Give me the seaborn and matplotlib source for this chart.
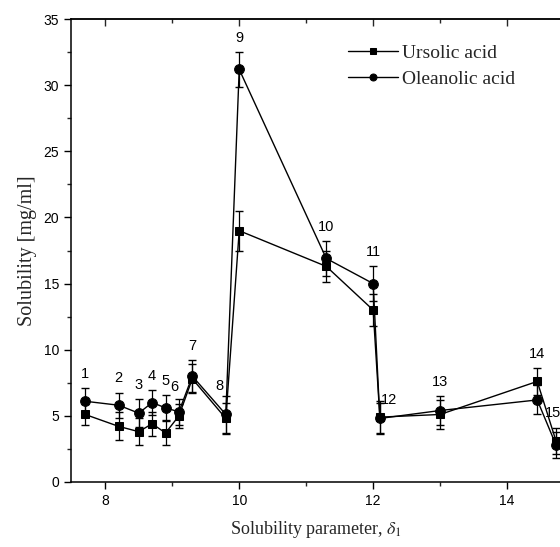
import matplotlib
matplotlib.use("Agg")
import matplotlib.pyplot as plt
import seaborn as sns
import pandas as pd
import numpy as np
from matplotlib.ticker import MultipleLocator

# Data
delta = [7.7, 8.2, 8.5, 8.7, 8.9, 9.1, 9.3, 9.8, 10.0, 11.3, 12.0, 12.1, 13.0, 14.45, 14.73]
ursolic = [5.1, 4.2, 3.8, 4.4, 3.7, 5.0, 7.8, 4.8, 19.0, 16.3, 13.0, 4.9, 5.1, 7.6, 3.1]
oleanolic = [6.1, 5.8, 5.2, 6.0, 5.6, 5.3, 8.0, 5.1, 31.2, 16.9, 15.0, 4.8, 5.4, 6.2, 2.8]
ursolic_err = [0.8, 1.05, 1.0, 0.9, 0.9, 0.9, 1.1, 1.2, 1.5, 1.2, 1.2, 1.2, 1.1, 1.0, 1.0]
oleanolic_err = [1.0, 0.95, 1.05, 0.95, 0.95, 1.0, 1.2, 1.4, 1.3, 1.3, 1.3, 1.2, 1.1, 1.1, 1.0]
point_labels = [str(i) for i in range(1, 16)]

df = pd.DataFrame({
    "delta": delta * 2,
    "sol": ursolic + oleanolic,
    "acid": ["Ursolic acid"] * len(delta) + ["Oleanolic acid"] * len(delta),
})

sns.set_style("ticks")
plt.rcParams["font.family"] = ["Liberation Sans", "DejaVu Sans"]
plt.rcParams["mathtext.fontset"] = "stix"

fig = plt.figure(figsize=(5.6, 5.47), dpi=100)
ax = fig.add_axes([0.127, 0.119, 0.873, 0.846])

sns.lineplot(data=df, x="delta", y="sol", hue="acid", style="acid",
             palette={"Ursolic acid": "black", "Oleanolic acid": "black"},
             markers={"Ursolic acid": "s", "Oleanolic acid": "o"},
             dashes=False, sort=False, estimator=None, ax=ax,
             linewidth=1.0, markersize=7, markeredgecolor="black", legend=True)
for ln in ax.lines:
    if ln.get_marker() == "s":
        ln.set_markersize(6)

ax.errorbar(delta, ursolic, yerr=ursolic_err, fmt="none", ecolor="black",
            elinewidth=0.9, capsize=3.2, capthick=1.0)
ax.errorbar(delta, oleanolic, yerr=oleanolic_err, fmt="none", ecolor="black",
            elinewidth=0.9, capsize=3.2, capthick=1.0)

# point numbers
dx = {6: -0.07, 8: -0.1, 12: 0.13, 15: -0.04}
dy = {12: -1.0, 6: -0.2, 8: -0.3}
for i, lab in enumerate(point_labels):
    n = i + 1
    top = max(ursolic[i] + ursolic_err[i], oleanolic[i] + oleanolic_err[i])
    ax.text(delta[i] + dx.get(n, 0), top + 0.55 + dy.get(n, 0), lab,
            ha="center", va="bottom", fontsize=10.5, color="black", clip_on=False)

ax.set_xlim(7.49, 14.79)
ax.set_ylim(0, 35)
ax.xaxis.set_major_locator(MultipleLocator(2))
ax.xaxis.set_minor_locator(MultipleLocator(1))
ax.yaxis.set_major_locator(MultipleLocator(5))
ax.yaxis.set_minor_locator(MultipleLocator(2.5))
ax.tick_params(axis="both", which="major", direction="out", length=5, width=1,
               labelsize=10, colors="black")
ax.tick_params(axis="both", which="minor", direction="out", length=3, width=1)

# top spine with inward ticks
top_ax = ax.secondary_xaxis("top")
top_ax.xaxis.set_major_locator(MultipleLocator(2))
top_ax.xaxis.set_minor_locator(MultipleLocator(1))
top_ax.tick_params(which="major", direction="in", length=5, width=1, labeltop=False)
top_ax.tick_params(which="minor", direction="in", length=3, width=1)
top_ax.spines["top"].set_linewidth(1.1)

for s in ["left", "bottom", "top"]:
    ax.spines[s].set_visible(True)
    ax.spines[s].set_color("black")
    ax.spines[s].set_linewidth(1.1)
ax.spines["right"].set_visible(False)

ax.set_xlabel(r"Solubility parameter, $\delta_1$", family="Liberation Serif",
              fontsize=13, labelpad=8)
ax.set_ylabel("Solubility [mg/ml]", family="Liberation Serif", fontsize=14.5, labelpad=5)

leg = ax.legend(loc="upper left", bbox_to_anchor=(0.566, 0.945), frameon=False,
                prop={"family": "Liberation Serif", "size": 14}, handlelength=2.6,
                handletextpad=0.2, labelspacing=0.4, borderpad=0, borderaxespad=0)
for h in leg.legend_handles:
    h.set_markersize(5)

fig.savefig("out.png", dpi=100)
